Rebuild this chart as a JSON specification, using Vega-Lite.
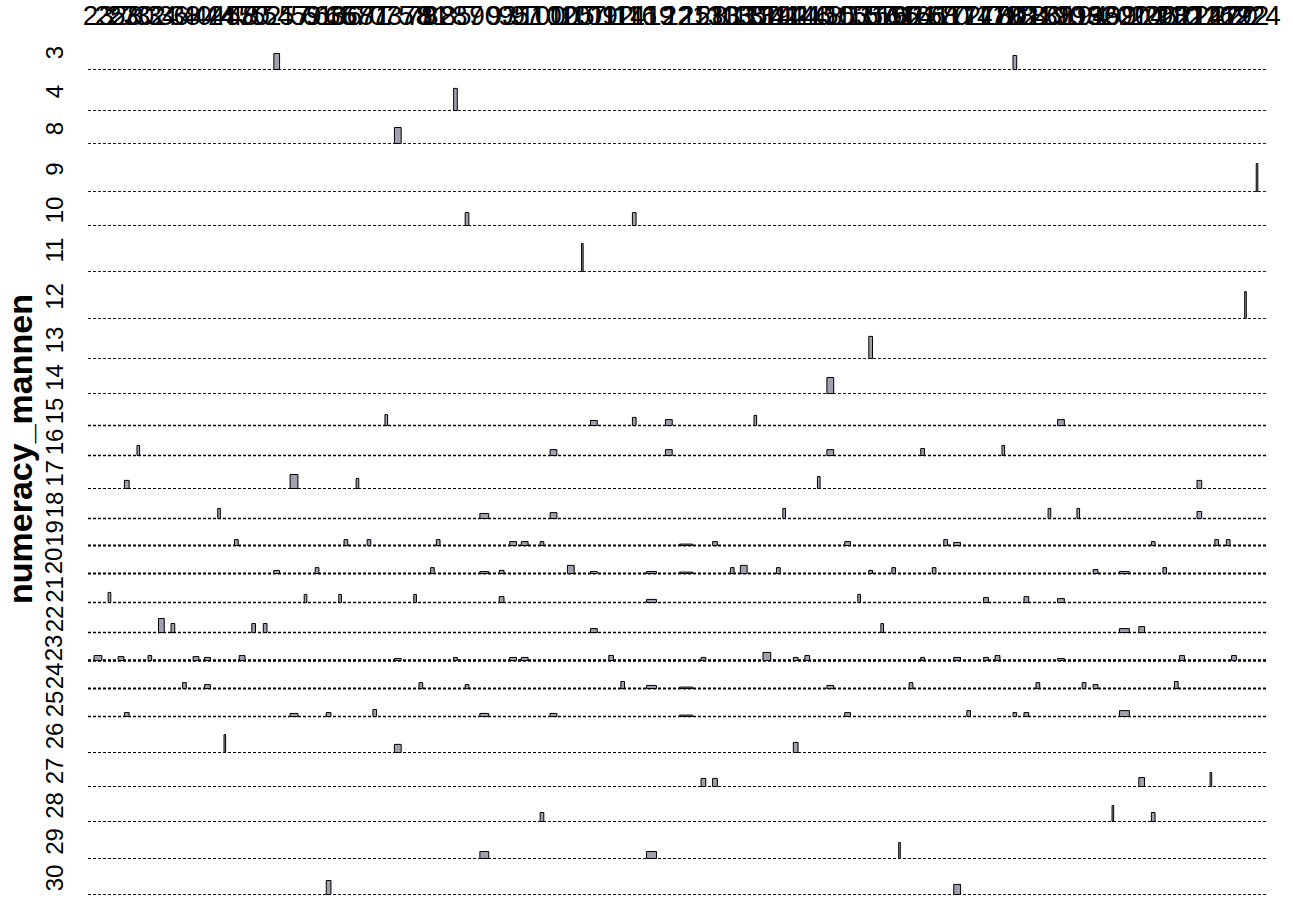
{
"$schema": "https://vega.github.io/schema/vega-lite/v6.json",
"background": "white",
"padding": {"left": 4, "top": 2, "right": 2, "bottom": 2},
"title": {"text": "numeracy_mannen", "orient": "left", "anchor": "middle", "font": "Liberation Sans", "fontSize": 34, "fontWeight": "bold", "color": "black", "offset": 4},
"data": {"values": [
{"col":23,"row":23,"n":7,"share":0.18},
{"col":25,"row":21,"n":2,"share":0.36},
{"col":27,"row":23,"n":5,"share":0.14},
{"col":28,"row":17,"n":2,"share":0.29},{"col":28,"row":25,"n":2,"share":0.14},
{"col":30,"row":16,"n":2,"share":0.36},
{"col":32,"row":23,"n":3,"share":0.18},
{"col":34,"row":22,"n":5,"share":0.5},
{"col":36,"row":22,"n":3,"share":0.32},
{"col":38,"row":24,"n":3,"share":0.21},
{"col":40,"row":23,"n":5,"share":0.14},
{"col":42,"row":23,"n":2,"share":0.11},{"col":42,"row":24,"n":3,"share":0.14},
{"col":44,"row":18,"n":2,"share":0.36},
{"col":45,"row":26,"n":1,"share":0.64},
{"col":47,"row":19,"n":3,"share":0.21},
{"col":48,"row":23,"n":5,"share":0.18},
{"col":50,"row":22,"n":3,"share":0.32},
{"col":52,"row":22,"n":3,"share":0.32},
{"col":54,"row":3,"n":1,"share":0.57},{"col":54,"row":20,"n":4,"share":0.11},
{"col":57,"row":17,"n":5,"share":0.5},{"col":57,"row":25,"n":2,"share":0.11},
{"col":59,"row":21,"n":2,"share":0.29},
{"col":61,"row":20,"n":3,"share":0.21},
{"col":63,"row":25,"n":2,"share":0.14},{"col":63,"row":30,"n":2,"share":0.5},
{"col":65,"row":21,"n":2,"share":0.29},
{"col":66,"row":19,"n":3,"share":0.21},
{"col":68,"row":17,"n":2,"share":0.36},
{"col":70,"row":19,"n":3,"share":0.21},
{"col":71,"row":25,"n":3,"share":0.25},
{"col":73,"row":15,"n":2,"share":0.39},
{"col":75,"row":8,"n":1,"share":0.57},{"col":75,"row":23,"n":3,"share":0.07},{"col":75,"row":26,"n":2,"share":0.29},
{"col":78,"row":21,"n":2,"share":0.29},
{"col":79,"row":24,"n":3,"share":0.21},
{"col":81,"row":20,"n":3,"share":0.21},
{"col":82,"row":19,"n":3,"share":0.21},
{"col":85,"row":4,"n":1,"share":0.79},{"col":85,"row":23,"n":2,"share":0.11},
{"col":87,"row":10,"n":1,"share":0.46},{"col":87,"row":24,"n":2,"share":0.14},
{"col":90,"row":18,"n":2,"share":0.18},{"col":90,"row":20,"n":2,"share":0.07},{"col":90,"row":25,"n":2,"share":0.11},{"col":90,"row":29,"n":2,"share":0.25},
{"col":93,"row":20,"n":2,"share":0.11},{"col":93,"row":21,"n":2,"share":0.21},
{"col":95,"row":19,"n":2,"share":0.14},{"col":95,"row":23,"n":4,"share":0.11},
{"col":97,"row":19,"n":2,"share":0.14},{"col":97,"row":23,"n":4,"share":0.11},
{"col":100,"row":19,"n":2,"share":0.14},{"col":100,"row":28,"n":1,"share":0.32},
{"col":102,"row":16,"n":2,"share":0.21},{"col":102,"row":18,"n":2,"share":0.21},{"col":102,"row":25,"n":2,"share":0.11},
{"col":105,"row":20,"n":6,"share":0.29},
{"col":107,"row":11,"n":1,"share":1.0},
{"col":109,"row":15,"n":2,"share":0.18},{"col":109,"row":20,"n":2,"share":0.07},{"col":109,"row":22,"n":2,"share":0.14},
{"col":112,"row":23,"n":4,"share":0.18},
{"col":114,"row":24,"n":3,"share":0.25},
{"col":116,"row":10,"n":1,"share":0.46},{"col":116,"row":15,"n":2,"share":0.29},
{"col":119,"row":20,"n":2,"share":0.07},{"col":119,"row":21,"n":3,"share":0.11},{"col":119,"row":24,"n":2,"share":0.11},{"col":119,"row":29,"n":2,"share":0.25},
{"col":122,"row":15,"n":3,"share":0.21},{"col":122,"row":16,"n":3,"share":0.21},
{"col":125,"row":19,"n":3,"share":0.05},{"col":125,"row":20,"n":3,"share":0.05},{"col":125,"row":24,"n":3,"share":0.05},{"col":125,"row":25,"n":3,"share":0.05},
{"col":128,"row":23,"n":2,"share":0.11},{"col":128,"row":27,"n":2,"share":0.29},
{"col":130,"row":19,"n":2,"share":0.14},{"col":130,"row":27,"n":2,"share":0.29},
{"col":133,"row":20,"n":3,"share":0.21},
{"col":135,"row":20,"n":6,"share":0.29},
{"col":137,"row":15,"n":2,"share":0.36},
{"col":139,"row":23,"n":7,"share":0.29},
{"col":141,"row":20,"n":3,"share":0.21},
{"col":142,"row":18,"n":2,"share":0.36},
{"col":144,"row":23,"n":2,"share":0.11},{"col":144,"row":26,"n":2,"share":0.36},
{"col":146,"row":23,"n":4,"share":0.18},
{"col":148,"row":17,"n":2,"share":0.43},
{"col":150,"row":14,"n":1,"share":0.57},{"col":150,"row":16,"n":2,"share":0.21},{"col":150,"row":24,"n":3,"share":0.11},
{"col":153,"row":19,"n":3,"share":0.14},{"col":153,"row":25,"n":2,"share":0.14},
{"col":155,"row":21,"n":2,"share":0.29},
{"col":157,"row":13,"n":1,"share":0.79},{"col":157,"row":20,"n":2,"share":0.11},
{"col":159,"row":22,"n":2,"share":0.32},
{"col":161,"row":20,"n":3,"share":0.21},
{"col":162,"row":29,"n":1,"share":0.57},
{"col":164,"row":24,"n":3,"share":0.21},
{"col":166,"row":16,"n":1,"share":0.25},{"col":166,"row":23,"n":2,"share":0.11},
{"col":168,"row":20,"n":3,"share":0.21},
{"col":170,"row":19,"n":3,"share":0.21},
{"col":172,"row":19,"n":2,"share":0.11},{"col":172,"row":23,"n":2,"share":0.11},{"col":172,"row":30,"n":2,"share":0.36},
{"col":174,"row":25,"n":3,"share":0.21},
{"col":177,"row":21,"n":2,"share":0.18},{"col":177,"row":23,"n":2,"share":0.11},
{"col":179,"row":23,"n":4,"share":0.18},
{"col":180,"row":16,"n":2,"share":0.36},
{"col":182,"row":3,"n":1,"share":0.5},{"col":182,"row":25,"n":2,"share":0.14},
{"col":184,"row":21,"n":2,"share":0.21},{"col":184,"row":25,"n":2,"share":0.14},
{"col":186,"row":24,"n":3,"share":0.21},
{"col":188,"row":18,"n":2,"share":0.36},
{"col":190,"row":15,"n":2,"share":0.21},{"col":190,"row":21,"n":2,"share":0.14},{"col":190,"row":23,"n":2,"share":0.07},
{"col":193,"row":18,"n":2,"share":0.36},
{"col":194,"row":24,"n":3,"share":0.21},
{"col":196,"row":20,"n":2,"share":0.14},{"col":196,"row":24,"n":2,"share":0.14},
{"col":199,"row":28,"n":1,"share":0.57},
{"col":201,"row":20,"n":3,"share":0.07},{"col":201,"row":22,"n":2,"share":0.14},{"col":201,"row":25,"n":4,"share":0.21},
{"col":204,"row":22,"n":3,"share":0.21},{"col":204,"row":27,"n":2,"share":0.32},
{"col":206,"row":19,"n":2,"share":0.14},{"col":206,"row":28,"n":1,"share":0.32},
{"col":208,"row":20,"n":3,"share":0.21},
{"col":210,"row":24,"n":3,"share":0.25},
{"col":211,"row":23,"n":4,"share":0.18},
{"col":214,"row":17,"n":2,"share":0.29},{"col":214,"row":18,"n":2,"share":0.25},
{"col":216,"row":27,"n":1,"share":0.5},
{"col":217,"row":19,"n":3,"share":0.21},
{"col":219,"row":19,"n":3,"share":0.21},
{"col":220,"row":23,"n":4,"share":0.18},
{"col":222,"row":12,"n":1,"share":0.96},
{"col":224,"row":9,"n":1,"share":1.0}
]},
"transform": [{"joinaggregate": [{"op": "sum", "field": "n", "as": "colTotal"}], "groupby": ["col"]}],
"resolve": {"scale": {"x": "shared", "y": "independent", "size": "shared", "strokeWidth": "shared"}},
"spacing": 0,
"config": {
  "view": {"stroke": null},
  "header": {"labelAngle": -90, "labelFont": "Liberation Sans", "labelFontSize": 24, "labelColor": "black", "labelPadding": 6, "labelOrient": "left"},
  "concat": {"spacing": 0},
  "facet": {"spacing": 0}
},
"vconcat": [
{"transform":[{"filter":"datum.row == 3"}],"facet":{"row":{"field":"row","type":"ordinal","title":null}},"spec":{"width":1179,"height":37,"layer":[
 {"mark":{"type":"rule","color":"black","strokeDash":[3,2]},"encoding":{"y":{"datum":0,"type":"quantitative","scale":{"domain":[-0.0536,1.2679],"nice":false},"axis":null},"strokeWidth":{"aggregate":"count","type":"quantitative","scale":{"domain":[1,22],"range":[0.9,2.4]},"legend":null}}},
 {"mark":{"type":"bar","orient":"vertical","fill":"#a0a0b0","stroke":"black","strokeWidth":1},"encoding":{"x":{"field":"col","type":"quantitative","scale":{"domain":[21.97,224.69],"nice":false,"zero":false},"axis":{"orient":"top","title":null,"values":[23,25,27,28,30,32,34,36,38,40,42,44,45,47,48,50,52,54,57,59,61,63,65,66,68,70,71,73,75,78,79,81,82,85,87,90,93,95,97,100,102,105,107,109,112,114,116,119,122,125,128,130,133,135,137,139,141,142,144,146,148,150,153,155,157,159,161,162,164,166,168,170,172,174,177,179,180,182,184,186,188,190,193,194,196,199,201,204,206,208,210,211,214,216,217,219,220,222,224],"grid":false,"ticks":false,"domain":false,"labelAngle":0,"labelFont":"Liberation Sans","labelFontSize":28,"labelColor":"black","labelPadding":4,"labelOverlap":false,"labelBound":false,"labelFlush":false}},"y":{"field":"share","type":"quantitative","scale":{"domain":[-0.0536,1.2679],"nice":false},"axis":null},"size":{"field":"colTotal","type":"quantitative","scale":{"domain":[1,12],"range":[1.6,13]},"legend":null}}}
]}},
{"transform":[{"filter":"datum.row == 4"}],"facet":{"row":{"field":"row","type":"ordinal","title":null}},"spec":{"width":1179,"height":41,"layer":[
 {"mark":{"type":"rule","color":"black","strokeDash":[3,2]},"encoding":{"y":{"datum":0,"type":"quantitative","scale":{"domain":[-0.0536,1.4107],"nice":false},"axis":null},"strokeWidth":{"aggregate":"count","type":"quantitative","scale":{"domain":[1,22],"range":[0.9,2.4]},"legend":null}}},
 {"mark":{"type":"bar","orient":"vertical","fill":"#a0a0b0","stroke":"black","strokeWidth":1},"encoding":{"x":{"field":"col","type":"quantitative","scale":{"domain":[21.97,224.69],"nice":false,"zero":false},"axis":null},"y":{"field":"share","type":"quantitative","scale":{"domain":[-0.0536,1.4107],"nice":false},"axis":null},"size":{"field":"colTotal","type":"quantitative","scale":{"domain":[1,12],"range":[1.6,13]},"legend":null}}}
]}},
{"transform":[{"filter":"datum.row == 8"}],"facet":{"row":{"field":"row","type":"ordinal","title":null}},"spec":{"width":1179,"height":33,"layer":[
 {"mark":{"type":"rule","color":"black","strokeDash":[3,2]},"encoding":{"y":{"datum":0,"type":"quantitative","scale":{"domain":[-0.0536,1.125],"nice":false},"axis":null},"strokeWidth":{"aggregate":"count","type":"quantitative","scale":{"domain":[1,22],"range":[0.9,2.4]},"legend":null}}},
 {"mark":{"type":"bar","orient":"vertical","fill":"#a0a0b0","stroke":"black","strokeWidth":1},"encoding":{"x":{"field":"col","type":"quantitative","scale":{"domain":[21.97,224.69],"nice":false,"zero":false},"axis":null},"y":{"field":"share","type":"quantitative","scale":{"domain":[-0.0536,1.125],"nice":false},"axis":null},"size":{"field":"colTotal","type":"quantitative","scale":{"domain":[1,12],"range":[1.6,13]},"legend":null}}}
]}},
{"transform":[{"filter":"datum.row == 9"}],"facet":{"row":{"field":"row","type":"ordinal","title":null}},"spec":{"width":1179,"height":48,"layer":[
 {"mark":{"type":"rule","color":"black","strokeDash":[3,2]},"encoding":{"y":{"datum":0,"type":"quantitative","scale":{"domain":[-0.0536,1.6607],"nice":false},"axis":null},"strokeWidth":{"aggregate":"count","type":"quantitative","scale":{"domain":[1,22],"range":[0.9,2.4]},"legend":null}}},
 {"mark":{"type":"bar","orient":"vertical","fill":"#a0a0b0","stroke":"black","strokeWidth":1},"encoding":{"x":{"field":"col","type":"quantitative","scale":{"domain":[21.97,224.69],"nice":false,"zero":false},"axis":null},"y":{"field":"share","type":"quantitative","scale":{"domain":[-0.0536,1.6607],"nice":false},"axis":null},"size":{"field":"colTotal","type":"quantitative","scale":{"domain":[1,12],"range":[1.6,13]},"legend":null}}}
]}},
{"transform":[{"filter":"datum.row == 10"}],"facet":{"row":{"field":"row","type":"ordinal","title":null}},"spec":{"width":1179,"height":34,"layer":[
 {"mark":{"type":"rule","color":"black","strokeDash":[3,2]},"encoding":{"y":{"datum":0,"type":"quantitative","scale":{"domain":[-0.0536,1.1607],"nice":false},"axis":null},"strokeWidth":{"aggregate":"count","type":"quantitative","scale":{"domain":[1,22],"range":[0.9,2.4]},"legend":null}}},
 {"mark":{"type":"bar","orient":"vertical","fill":"#a0a0b0","stroke":"black","strokeWidth":1},"encoding":{"x":{"field":"col","type":"quantitative","scale":{"domain":[21.97,224.69],"nice":false,"zero":false},"axis":null},"y":{"field":"share","type":"quantitative","scale":{"domain":[-0.0536,1.1607],"nice":false},"axis":null},"size":{"field":"colTotal","type":"quantitative","scale":{"domain":[1,12],"range":[1.6,13]},"legend":null}}}
]}},
{"transform":[{"filter":"datum.row == 11"}],"facet":{"row":{"field":"row","type":"ordinal","title":null}},"spec":{"width":1179,"height":46,"layer":[
 {"mark":{"type":"rule","color":"black","strokeDash":[3,2]},"encoding":{"y":{"datum":0,"type":"quantitative","scale":{"domain":[-0.0536,1.5893],"nice":false},"axis":null},"strokeWidth":{"aggregate":"count","type":"quantitative","scale":{"domain":[1,22],"range":[0.9,2.4]},"legend":null}}},
 {"mark":{"type":"bar","orient":"vertical","fill":"#a0a0b0","stroke":"black","strokeWidth":1},"encoding":{"x":{"field":"col","type":"quantitative","scale":{"domain":[21.97,224.69],"nice":false,"zero":false},"axis":null},"y":{"field":"share","type":"quantitative","scale":{"domain":[-0.0536,1.5893],"nice":false},"axis":null},"size":{"field":"colTotal","type":"quantitative","scale":{"domain":[1,12],"range":[1.6,13]},"legend":null}}}
]}},
{"transform":[{"filter":"datum.row == 12"}],"facet":{"row":{"field":"row","type":"ordinal","title":null}},"spec":{"width":1179,"height":47,"layer":[
 {"mark":{"type":"rule","color":"black","strokeDash":[3,2]},"encoding":{"y":{"datum":0,"type":"quantitative","scale":{"domain":[-0.0536,1.625],"nice":false},"axis":null},"strokeWidth":{"aggregate":"count","type":"quantitative","scale":{"domain":[1,22],"range":[0.9,2.4]},"legend":null}}},
 {"mark":{"type":"bar","orient":"vertical","fill":"#a0a0b0","stroke":"black","strokeWidth":1},"encoding":{"x":{"field":"col","type":"quantitative","scale":{"domain":[21.97,224.69],"nice":false,"zero":false},"axis":null},"y":{"field":"share","type":"quantitative","scale":{"domain":[-0.0536,1.625],"nice":false},"axis":null},"size":{"field":"colTotal","type":"quantitative","scale":{"domain":[1,12],"range":[1.6,13]},"legend":null}}}
]}},
{"transform":[{"filter":"datum.row == 13"}],"facet":{"row":{"field":"row","type":"ordinal","title":null}},"spec":{"width":1179,"height":40,"layer":[
 {"mark":{"type":"rule","color":"black","strokeDash":[3,2]},"encoding":{"y":{"datum":0,"type":"quantitative","scale":{"domain":[-0.0536,1.375],"nice":false},"axis":null},"strokeWidth":{"aggregate":"count","type":"quantitative","scale":{"domain":[1,22],"range":[0.9,2.4]},"legend":null}}},
 {"mark":{"type":"bar","orient":"vertical","fill":"#a0a0b0","stroke":"black","strokeWidth":1},"encoding":{"x":{"field":"col","type":"quantitative","scale":{"domain":[21.97,224.69],"nice":false,"zero":false},"axis":null},"y":{"field":"share","type":"quantitative","scale":{"domain":[-0.0536,1.375],"nice":false},"axis":null},"size":{"field":"colTotal","type":"quantitative","scale":{"domain":[1,12],"range":[1.6,13]},"legend":null}}}
]}},
{"transform":[{"filter":"datum.row == 14"}],"facet":{"row":{"field":"row","type":"ordinal","title":null}},"spec":{"width":1179,"height":35,"layer":[
 {"mark":{"type":"rule","color":"black","strokeDash":[3,2]},"encoding":{"y":{"datum":0,"type":"quantitative","scale":{"domain":[-0.0536,1.1964],"nice":false},"axis":null},"strokeWidth":{"aggregate":"count","type":"quantitative","scale":{"domain":[1,22],"range":[0.9,2.4]},"legend":null}}},
 {"mark":{"type":"bar","orient":"vertical","fill":"#a0a0b0","stroke":"black","strokeWidth":1},"encoding":{"x":{"field":"col","type":"quantitative","scale":{"domain":[21.97,224.69],"nice":false,"zero":false},"axis":null},"y":{"field":"share","type":"quantitative","scale":{"domain":[-0.0536,1.1964],"nice":false},"axis":null},"size":{"field":"colTotal","type":"quantitative","scale":{"domain":[1,12],"range":[1.6,13]},"legend":null}}}
]}},
{"transform":[{"filter":"datum.row == 15"}],"facet":{"row":{"field":"row","type":"ordinal","title":null}},"spec":{"width":1179,"height":32,"layer":[
 {"mark":{"type":"rule","color":"black","strokeDash":[3,2]},"encoding":{"y":{"datum":0,"type":"quantitative","scale":{"domain":[-0.0536,1.0893],"nice":false},"axis":null},"strokeWidth":{"aggregate":"count","type":"quantitative","scale":{"domain":[1,22],"range":[0.9,2.4]},"legend":null}}},
 {"mark":{"type":"bar","orient":"vertical","fill":"#a0a0b0","stroke":"black","strokeWidth":1},"encoding":{"x":{"field":"col","type":"quantitative","scale":{"domain":[21.97,224.69],"nice":false,"zero":false},"axis":null},"y":{"field":"share","type":"quantitative","scale":{"domain":[-0.0536,1.0893],"nice":false},"axis":null},"size":{"field":"colTotal","type":"quantitative","scale":{"domain":[1,12],"range":[1.6,13]},"legend":null}}}
]}},
{"transform":[{"filter":"datum.row == 16"}],"facet":{"row":{"field":"row","type":"ordinal","title":null}},"spec":{"width":1179,"height":30,"layer":[
 {"mark":{"type":"rule","color":"black","strokeDash":[3,2]},"encoding":{"y":{"datum":0,"type":"quantitative","scale":{"domain":[-0.0536,1.0179],"nice":false},"axis":null},"strokeWidth":{"aggregate":"count","type":"quantitative","scale":{"domain":[1,22],"range":[0.9,2.4]},"legend":null}}},
 {"mark":{"type":"bar","orient":"vertical","fill":"#a0a0b0","stroke":"black","strokeWidth":1},"encoding":{"x":{"field":"col","type":"quantitative","scale":{"domain":[21.97,224.69],"nice":false,"zero":false},"axis":null},"y":{"field":"share","type":"quantitative","scale":{"domain":[-0.0536,1.0179],"nice":false},"axis":null},"size":{"field":"colTotal","type":"quantitative","scale":{"domain":[1,12],"range":[1.6,13]},"legend":null}}}
]}},
{"transform":[{"filter":"datum.row == 17"}],"facet":{"row":{"field":"row","type":"ordinal","title":null}},"spec":{"width":1179,"height":33,"layer":[
 {"mark":{"type":"rule","color":"black","strokeDash":[3,2]},"encoding":{"y":{"datum":0,"type":"quantitative","scale":{"domain":[-0.0536,1.125],"nice":false},"axis":null},"strokeWidth":{"aggregate":"count","type":"quantitative","scale":{"domain":[1,22],"range":[0.9,2.4]},"legend":null}}},
 {"mark":{"type":"bar","orient":"vertical","fill":"#a0a0b0","stroke":"black","strokeWidth":1},"encoding":{"x":{"field":"col","type":"quantitative","scale":{"domain":[21.97,224.69],"nice":false,"zero":false},"axis":null},"y":{"field":"share","type":"quantitative","scale":{"domain":[-0.0536,1.125],"nice":false},"axis":null},"size":{"field":"colTotal","type":"quantitative","scale":{"domain":[1,12],"range":[1.6,13]},"legend":null}}}
]}},
{"transform":[{"filter":"datum.row == 18"}],"facet":{"row":{"field":"row","type":"ordinal","title":null}},"spec":{"width":1179,"height":30,"layer":[
 {"mark":{"type":"rule","color":"black","strokeDash":[3,2]},"encoding":{"y":{"datum":0,"type":"quantitative","scale":{"domain":[-0.0536,1.0179],"nice":false},"axis":null},"strokeWidth":{"aggregate":"count","type":"quantitative","scale":{"domain":[1,22],"range":[0.9,2.4]},"legend":null}}},
 {"mark":{"type":"bar","orient":"vertical","fill":"#a0a0b0","stroke":"black","strokeWidth":1},"encoding":{"x":{"field":"col","type":"quantitative","scale":{"domain":[21.97,224.69],"nice":false,"zero":false},"axis":null},"y":{"field":"share","type":"quantitative","scale":{"domain":[-0.0536,1.0179],"nice":false},"axis":null},"size":{"field":"colTotal","type":"quantitative","scale":{"domain":[1,12],"range":[1.6,13]},"legend":null}}}
]}},
{"transform":[{"filter":"datum.row == 19"}],"facet":{"row":{"field":"row","type":"ordinal","title":null}},"spec":{"width":1179,"height":27,"layer":[
 {"mark":{"type":"rule","color":"black","strokeDash":[3,2]},"encoding":{"y":{"datum":0,"type":"quantitative","scale":{"domain":[-0.0536,0.9107],"nice":false},"axis":null},"strokeWidth":{"aggregate":"count","type":"quantitative","scale":{"domain":[1,22],"range":[0.9,2.4]},"legend":null}}},
 {"mark":{"type":"bar","orient":"vertical","fill":"#a0a0b0","stroke":"black","strokeWidth":1},"encoding":{"x":{"field":"col","type":"quantitative","scale":{"domain":[21.97,224.69],"nice":false,"zero":false},"axis":null},"y":{"field":"share","type":"quantitative","scale":{"domain":[-0.0536,0.9107],"nice":false},"axis":null},"size":{"field":"colTotal","type":"quantitative","scale":{"domain":[1,12],"range":[1.6,13]},"legend":null}}}
]}},
{"transform":[{"filter":"datum.row == 20"}],"facet":{"row":{"field":"row","type":"ordinal","title":null}},"spec":{"width":1179,"height":28,"layer":[
 {"mark":{"type":"rule","color":"black","strokeDash":[3,2]},"encoding":{"y":{"datum":0,"type":"quantitative","scale":{"domain":[-0.0536,0.9464],"nice":false},"axis":null},"strokeWidth":{"aggregate":"count","type":"quantitative","scale":{"domain":[1,22],"range":[0.9,2.4]},"legend":null}}},
 {"mark":{"type":"bar","orient":"vertical","fill":"#a0a0b0","stroke":"black","strokeWidth":1},"encoding":{"x":{"field":"col","type":"quantitative","scale":{"domain":[21.97,224.69],"nice":false,"zero":false},"axis":null},"y":{"field":"share","type":"quantitative","scale":{"domain":[-0.0536,0.9464],"nice":false},"axis":null},"size":{"field":"colTotal","type":"quantitative","scale":{"domain":[1,12],"range":[1.6,13]},"legend":null}}}
]}},
{"transform":[{"filter":"datum.row == 21"}],"facet":{"row":{"field":"row","type":"ordinal","title":null}},"spec":{"width":1179,"height":29,"layer":[
 {"mark":{"type":"rule","color":"black","strokeDash":[3,2]},"encoding":{"y":{"datum":0,"type":"quantitative","scale":{"domain":[-0.0536,0.9821],"nice":false},"axis":null},"strokeWidth":{"aggregate":"count","type":"quantitative","scale":{"domain":[1,22],"range":[0.9,2.4]},"legend":null}}},
 {"mark":{"type":"bar","orient":"vertical","fill":"#a0a0b0","stroke":"black","strokeWidth":1},"encoding":{"x":{"field":"col","type":"quantitative","scale":{"domain":[21.97,224.69],"nice":false,"zero":false},"axis":null},"y":{"field":"share","type":"quantitative","scale":{"domain":[-0.0536,0.9821],"nice":false},"axis":null},"size":{"field":"colTotal","type":"quantitative","scale":{"domain":[1,12],"range":[1.6,13]},"legend":null}}}
]}},
{"transform":[{"filter":"datum.row == 22"}],"facet":{"row":{"field":"row","type":"ordinal","title":null}},"spec":{"width":1179,"height":30,"layer":[
 {"mark":{"type":"rule","color":"black","strokeDash":[3,2]},"encoding":{"y":{"datum":0,"type":"quantitative","scale":{"domain":[-0.0536,1.0179],"nice":false},"axis":null},"strokeWidth":{"aggregate":"count","type":"quantitative","scale":{"domain":[1,22],"range":[0.9,2.4]},"legend":null}}},
 {"mark":{"type":"bar","orient":"vertical","fill":"#a0a0b0","stroke":"black","strokeWidth":1},"encoding":{"x":{"field":"col","type":"quantitative","scale":{"domain":[21.97,224.69],"nice":false,"zero":false},"axis":null},"y":{"field":"share","type":"quantitative","scale":{"domain":[-0.0536,1.0179],"nice":false},"axis":null},"size":{"field":"colTotal","type":"quantitative","scale":{"domain":[1,12],"range":[1.6,13]},"legend":null}}}
]}},
{"transform":[{"filter":"datum.row == 23"}],"facet":{"row":{"field":"row","type":"ordinal","title":null}},"spec":{"width":1179,"height":28,"layer":[
 {"mark":{"type":"rule","color":"black","strokeDash":[3,2]},"encoding":{"y":{"datum":0,"type":"quantitative","scale":{"domain":[-0.0536,0.9464],"nice":false},"axis":null},"strokeWidth":{"aggregate":"count","type":"quantitative","scale":{"domain":[1,22],"range":[0.9,2.4]},"legend":null}}},
 {"mark":{"type":"bar","orient":"vertical","fill":"#a0a0b0","stroke":"black","strokeWidth":1},"encoding":{"x":{"field":"col","type":"quantitative","scale":{"domain":[21.97,224.69],"nice":false,"zero":false},"axis":null},"y":{"field":"share","type":"quantitative","scale":{"domain":[-0.0536,0.9464],"nice":false},"axis":null},"size":{"field":"colTotal","type":"quantitative","scale":{"domain":[1,12],"range":[1.6,13]},"legend":null}}}
]}},
{"transform":[{"filter":"datum.row == 24"}],"facet":{"row":{"field":"row","type":"ordinal","title":null}},"spec":{"width":1179,"height":28,"layer":[
 {"mark":{"type":"rule","color":"black","strokeDash":[3,2]},"encoding":{"y":{"datum":0,"type":"quantitative","scale":{"domain":[-0.0536,0.9464],"nice":false},"axis":null},"strokeWidth":{"aggregate":"count","type":"quantitative","scale":{"domain":[1,22],"range":[0.9,2.4]},"legend":null}}},
 {"mark":{"type":"bar","orient":"vertical","fill":"#a0a0b0","stroke":"black","strokeWidth":1},"encoding":{"x":{"field":"col","type":"quantitative","scale":{"domain":[21.97,224.69],"nice":false,"zero":false},"axis":null},"y":{"field":"share","type":"quantitative","scale":{"domain":[-0.0536,0.9464],"nice":false},"axis":null},"size":{"field":"colTotal","type":"quantitative","scale":{"domain":[1,12],"range":[1.6,13]},"legend":null}}}
]}},
{"transform":[{"filter":"datum.row == 25"}],"facet":{"row":{"field":"row","type":"ordinal","title":null}},"spec":{"width":1179,"height":28,"layer":[
 {"mark":{"type":"rule","color":"black","strokeDash":[3,2]},"encoding":{"y":{"datum":0,"type":"quantitative","scale":{"domain":[-0.0536,0.9464],"nice":false},"axis":null},"strokeWidth":{"aggregate":"count","type":"quantitative","scale":{"domain":[1,22],"range":[0.9,2.4]},"legend":null}}},
 {"mark":{"type":"bar","orient":"vertical","fill":"#a0a0b0","stroke":"black","strokeWidth":1},"encoding":{"x":{"field":"col","type":"quantitative","scale":{"domain":[21.97,224.69],"nice":false,"zero":false},"axis":null},"y":{"field":"share","type":"quantitative","scale":{"domain":[-0.0536,0.9464],"nice":false},"axis":null},"size":{"field":"colTotal","type":"quantitative","scale":{"domain":[1,12],"range":[1.6,13]},"legend":null}}}
]}},
{"transform":[{"filter":"datum.row == 26"}],"facet":{"row":{"field":"row","type":"ordinal","title":null}},"spec":{"width":1179,"height":36,"layer":[
 {"mark":{"type":"rule","color":"black","strokeDash":[3,2]},"encoding":{"y":{"datum":0,"type":"quantitative","scale":{"domain":[-0.0536,1.2321],"nice":false},"axis":null},"strokeWidth":{"aggregate":"count","type":"quantitative","scale":{"domain":[1,22],"range":[0.9,2.4]},"legend":null}}},
 {"mark":{"type":"bar","orient":"vertical","fill":"#a0a0b0","stroke":"black","strokeWidth":1},"encoding":{"x":{"field":"col","type":"quantitative","scale":{"domain":[21.97,224.69],"nice":false,"zero":false},"axis":null},"y":{"field":"share","type":"quantitative","scale":{"domain":[-0.0536,1.2321],"nice":false},"axis":null},"size":{"field":"colTotal","type":"quantitative","scale":{"domain":[1,12],"range":[1.6,13]},"legend":null}}}
]}},
{"transform":[{"filter":"datum.row == 27"}],"facet":{"row":{"field":"row","type":"ordinal","title":null}},"spec":{"width":1179,"height":34,"layer":[
 {"mark":{"type":"rule","color":"black","strokeDash":[3,2]},"encoding":{"y":{"datum":0,"type":"quantitative","scale":{"domain":[-0.0536,1.1607],"nice":false},"axis":null},"strokeWidth":{"aggregate":"count","type":"quantitative","scale":{"domain":[1,22],"range":[0.9,2.4]},"legend":null}}},
 {"mark":{"type":"bar","orient":"vertical","fill":"#a0a0b0","stroke":"black","strokeWidth":1},"encoding":{"x":{"field":"col","type":"quantitative","scale":{"domain":[21.97,224.69],"nice":false,"zero":false},"axis":null},"y":{"field":"share","type":"quantitative","scale":{"domain":[-0.0536,1.1607],"nice":false},"axis":null},"size":{"field":"colTotal","type":"quantitative","scale":{"domain":[1,12],"range":[1.6,13]},"legend":null}}}
]}},
{"transform":[{"filter":"datum.row == 28"}],"facet":{"row":{"field":"row","type":"ordinal","title":null}},"spec":{"width":1179,"height":35,"layer":[
 {"mark":{"type":"rule","color":"black","strokeDash":[3,2]},"encoding":{"y":{"datum":0,"type":"quantitative","scale":{"domain":[-0.0536,1.1964],"nice":false},"axis":null},"strokeWidth":{"aggregate":"count","type":"quantitative","scale":{"domain":[1,22],"range":[0.9,2.4]},"legend":null}}},
 {"mark":{"type":"bar","orient":"vertical","fill":"#a0a0b0","stroke":"black","strokeWidth":1},"encoding":{"x":{"field":"col","type":"quantitative","scale":{"domain":[21.97,224.69],"nice":false,"zero":false},"axis":null},"y":{"field":"share","type":"quantitative","scale":{"domain":[-0.0536,1.1964],"nice":false},"axis":null},"size":{"field":"colTotal","type":"quantitative","scale":{"domain":[1,12],"range":[1.6,13]},"legend":null}}}
]}},
{"transform":[{"filter":"datum.row == 29"}],"facet":{"row":{"field":"row","type":"ordinal","title":null}},"spec":{"width":1179,"height":37,"layer":[
 {"mark":{"type":"rule","color":"black","strokeDash":[3,2]},"encoding":{"y":{"datum":0,"type":"quantitative","scale":{"domain":[-0.0536,1.2679],"nice":false},"axis":null},"strokeWidth":{"aggregate":"count","type":"quantitative","scale":{"domain":[1,22],"range":[0.9,2.4]},"legend":null}}},
 {"mark":{"type":"bar","orient":"vertical","fill":"#a0a0b0","stroke":"black","strokeWidth":1},"encoding":{"x":{"field":"col","type":"quantitative","scale":{"domain":[21.97,224.69],"nice":false,"zero":false},"axis":null},"y":{"field":"share","type":"quantitative","scale":{"domain":[-0.0536,1.2679],"nice":false},"axis":null},"size":{"field":"colTotal","type":"quantitative","scale":{"domain":[1,12],"range":[1.6,13]},"legend":null}}}
]}},
{"transform":[{"filter":"datum.row == 30"}],"facet":{"row":{"field":"row","type":"ordinal","title":null}},"spec":{"width":1179,"height":36,"layer":[
 {"mark":{"type":"rule","color":"black","strokeDash":[3,2]},"encoding":{"y":{"datum":0,"type":"quantitative","scale":{"domain":[-0.0536,1.2321],"nice":false},"axis":null},"strokeWidth":{"aggregate":"count","type":"quantitative","scale":{"domain":[1,22],"range":[0.9,2.4]},"legend":null}}},
 {"mark":{"type":"bar","orient":"vertical","fill":"#a0a0b0","stroke":"black","strokeWidth":1},"encoding":{"x":{"field":"col","type":"quantitative","scale":{"domain":[21.97,224.69],"nice":false,"zero":false},"axis":null},"y":{"field":"share","type":"quantitative","scale":{"domain":[-0.0536,1.2321],"nice":false},"axis":null},"size":{"field":"colTotal","type":"quantitative","scale":{"domain":[1,12],"range":[1.6,13]},"legend":null}}}
]}}
]
}
